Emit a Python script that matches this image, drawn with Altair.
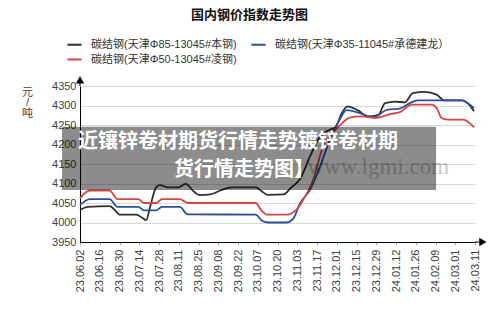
import altair as alt
import pandas as pd

# ---------------- data ----------------
tick_labels = ["23.06.02", "23.06.16", "23.06.30", "23.07.14", "23.07.28", "23.08.11",
               "23.08.25", "23.09.08", "23.09.22", "23.10.07", "23.10.20", "23.11.03",
               "23.11.17", "23.12.01", "23.12.15", "23.12.29", "24.01.12", "24.01.26",
               "24.02.09", "24.03.01", "24.03.11"]

series_names = ["碳结钢(天津Φ85-13045#本钢)",
                "碳结钢(天津Φ35-11045#承德建龙）",
                "碳结钢(天津Φ50-13045#凌钢)"]
series_colors = ["#2f2f2f", "#2c4f9e", "#d64545"]

# positions are in units of the category ticks (0 = 23.06.02, 20 = 24.03.11)
black_pos = [0.0, 0.4, 1.5, 1.8, 2.0, 2.85, 3.15, 3.35, 3.55, 3.85, 4.05, 4.45, 4.95, 5.35,
             5.75, 6.05, 6.6, 7.1, 7.7, 8.9, 9.2, 9.5, 10.3, 10.7, 11.15, 11.65, 12.15,
             12.65, 12.95, 13.25, 13.55, 14.05, 14.6, 15.1, 15.45, 15.95, 16.45, 16.85,
             17.45, 18.05, 18.45, 19.35, 19.65, 19.95]
black_val = [4032, 4040, 4042, 4030, 4020, 4020, 4012, 4006, 4040, 4090, 4096, 4090, 4090,
             4099, 4080, 4070, 4072, 4082, 4090, 4090, 4080, 4071, 4072, 4090, 4112, 4170,
             4220, 4238, 4245, 4280, 4298, 4288, 4272, 4276, 4306, 4310, 4308, 4332, 4335,
             4328, 4313, 4313, 4305, 4285]

blue_pos = [0.0, 0.5, 1.5, 1.9, 2.95, 3.25, 3.85, 4.15, 5.05, 5.45, 8.9, 9.2, 9.5, 10.45,
            10.8, 11.15, 11.65, 12.15, 12.65, 13.15, 13.5, 14.2, 14.85, 15.55, 16.2, 16.7,
            17.1, 19.35, 19.65, 19.95]
blue_val = [4045, 4060, 4060, 4040, 4040, 4031, 4031, 4040, 4040, 4021, 4020, 4005, 4000,
            4000, 4010, 4050, 4084, 4143, 4212, 4264, 4288, 4280, 4270, 4289, 4292, 4306,
            4313, 4313, 4305, 4293]

red_pos = [0.0, 0.5, 1.5, 1.9, 2.95, 3.25, 3.85, 4.15, 5.05, 5.45, 8.9, 9.2, 9.5, 10.45,
           11.0, 11.3, 11.8, 12.3, 12.8, 13.3, 13.65, 14.25, 14.9, 15.7, 16.2, 16.8, 17.8,
           18.1, 18.3, 18.6, 19.4, 19.95]
red_val = [4062, 4082, 4082, 4060, 4060, 4050, 4050, 4060, 4060, 4050, 4050, 4030, 4020,
           4020, 4035, 4058, 4109, 4194, 4230, 4256, 4269, 4272, 4268, 4278, 4283, 4302,
           4302, 4290, 4268, 4264, 4264, 4244]

y_ticks = [3950, 4000, 4050, 4100, 4150, 4200, 4250, 4300, 4350]
chart_title = "国内钢价指数走势图"
unit_lines = ["元", "/", "吨"]

# overlay (page banner) and watermark texts
overlay_lines = ["近镶锌卷材期货行情走势镀锌卷材期", "货行情走势图】"]
watermark_text = "www.lgmi.com"

# decoration anchors (data units)
overlay_x = [-0.91, 18.03]
overlay_y = [4083.5, 4245.5]
overlay_text_x = [8.0, 8.3]
overlay_text_y = [4206, 4134]
watermark_x = [15.1]
watermark_y = [4142]

# legend order (grid is filled column by column: black, red | blue)
legend_order = [series_names[0], series_names[2], series_names[1]]
legend_colors = [series_colors[0], series_colors[2], series_colors[1]]

# ---------------- frames ----------------
rows = []
for name, ps, vs in zip(series_names, [black_pos, blue_pos, red_pos],
                        [black_val, blue_val, red_val]):
    for i, (p, v) in enumerate(zip(ps, vs)):
        rows.append({"series": name, "pos": p, "value": v, "idx": i})
df = pd.DataFrame(rows)

xscale = alt.Scale(domain=[0, 20], nice=False, zero=False)
yscale = alt.Scale(domain=[3950, 4350], nice=False, zero=False)

label_expr = "[" + ",".join("'" + t + "'" for t in tick_labels) + "][round(datum.value)]"

FONT = "Liberation Sans, Noto Sans CJK SC"

x_axis = alt.Axis(values=list(range(21)), labelExpr=label_expr, labelAngle=270,
                  labelOverlap=False, labelFlush=False,
                  grid=False, tickSize=3, tickColor="#aaaaaa", domainColor="#000000",
                  labelFontSize=11, labelColor="#404040", labelPadding=4,
                  labelFont=FONT, title=None)
y_axis = alt.Axis(values=y_ticks, format="d", labelOverlap=False, labelFlush=False,
                  grid=True, gridColor="#d9d9d9", tickSize=0,
                  labelPadding=4, domainColor="#000000", labelFontSize=11,
                  labelColor="#404040", labelFont=FONT,
                  title=unit_lines, titleAngle=0, titleX=-53, titleY=0,
                  titleAlign="center", titleBaseline="top",
                  titleFontWeight="normal", titleFontSize=11, titleLineHeight=10.5,
                  titleColor="#404040", titleFont=FONT)

X = lambda f: alt.X(f, scale=xscale, axis=x_axis)
Y = lambda f: alt.Y(f, scale=yscale, axis=y_axis)

lines = alt.Chart(df).mark_line(interpolate="monotone", strokeWidth=1.8).encode(
    x=X("pos:Q"),
    y=Y("value:Q"),
    color=alt.Color("series:N",
                    scale=alt.Scale(domain=legend_order, range=legend_colors),
                    legend=alt.Legend(orient="none", legendX=-14, legendY=-50, columns=2,
                                      symbolType="stroke", symbolStrokeWidth=2,
                                      symbolSize=200, labelFontSize=11, labelLimit=400,
                                      columnPadding=10, rowPadding=1, title=None,
                                      labelColor="#333333", labelFont=FONT,
                                      labelOffset=8)),
    order="idx:Q",
)

# axis arrows
arrow_x_df = pd.DataFrame({"x": [20.0], "x2": [20.45], "y": [3950]})
arrow_y_df = pd.DataFrame({"x": [0], "y": [4350], "y2": [4368]})
tri_df = pd.DataFrame({"x": [20.4, 0.0], "y": [3950, 4366],
                       "shape": ["triangle-right", "triangle-up"]})

arr1 = alt.Chart(arrow_x_df).mark_rule(color="#000000", strokeWidth=1).encode(
    x=X("x:Q"), x2="x2:Q", y=Y("y:Q"))
arr2 = alt.Chart(arrow_y_df).mark_rule(color="#000000", strokeWidth=1).encode(
    x=X("x:Q"), y=Y("y:Q"), y2="y2:Q")
tris = alt.Chart(tri_df).mark_point(filled=True, color="#000000", opacity=1, size=70).encode(
    x=X("x:Q"), y=Y("y:Q"), shape=alt.Shape("shape:N", scale=None))

# overlay banner
ov_df = pd.DataFrame({"x": [overlay_x[0]], "x2": [overlay_x[1]],
                      "y": [overlay_y[0]], "y2": [overlay_y[1]]})
ov = alt.Chart(ov_df).mark_rect(color="#000000", opacity=0.45).encode(
    x=X("x:Q"), x2="x2:Q", y=Y("y:Q"), y2="y2:Q")

wm_df = pd.DataFrame({"x": watermark_x, "y": watermark_y, "t": [watermark_text]})
wm = alt.Chart(wm_df).mark_text(font="Liberation Serif", fontSize=23, color="#000000",
                                opacity=0.22).encode(
    x=X("x:Q"), y=Y("y:Q"), text="t:N")

ovt_df = pd.DataFrame({"x": overlay_text_x, "y": overlay_text_y, "t": overlay_lines})
ovt = alt.Chart(ovt_df).mark_text(font="Noto Sans CJK SC", fontSize=20, fontWeight="bold",
                                  color="#ffffff").encode(
    x=X("x:Q"), y=Y("y:Q"), text="t:N")

chart = alt.layer(lines, arr1, arr2, tris, ov, wm, ovt).properties(
    width=395, height=156,
    autosize=alt.AutoSizeParams(type="none"),
    padding={"left": 80, "top": 86, "right": 25, "bottom": 76},
    background="#ffffff",
    title=alt.TitleParams(chart_title, font="Noto Sans CJK SC", fontSize=13,
                          fontWeight="bold", anchor="middle", frame="group",
                          offset=14, dx=-28, color="#111111"),
).configure_view(stroke=None)

chart.save("out.html", embed_options={"renderer": "svg", "actions": False})
